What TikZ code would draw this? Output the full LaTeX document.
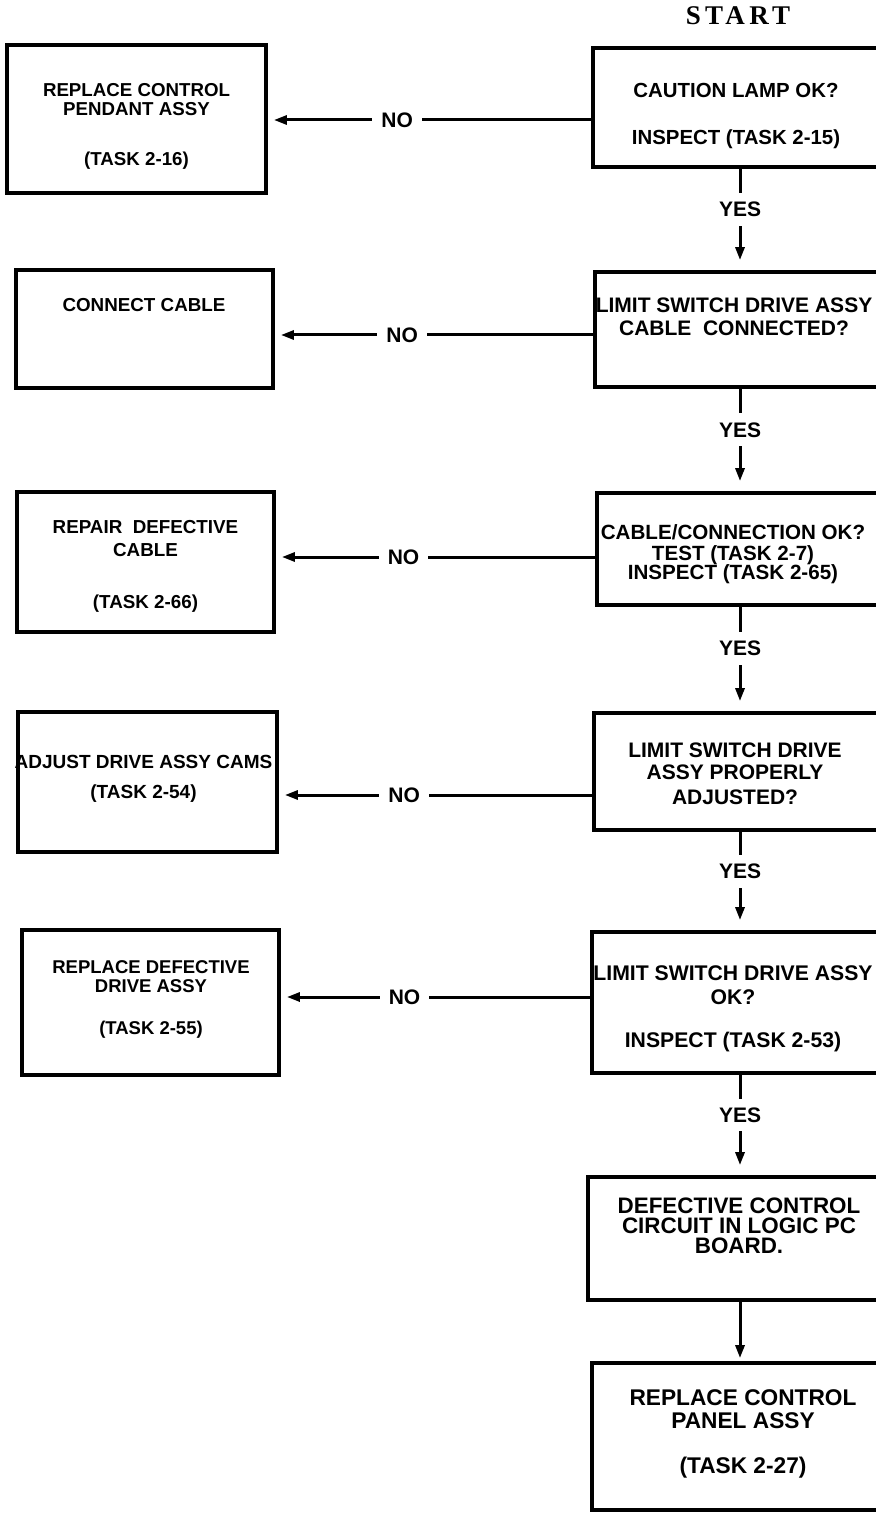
\documentclass[tikz,border=0pt]{standalone}
\usepackage{fontspec}
\setmainfont{Liberation Sans}
\newfontfamily\startfont[LetterSpace=16]{Liberation Serif}
\usetikzlibrary{arrows.meta,fit}

\begin{document}
\begin{tikzpicture}[x=0.5pt,y=-0.5pt,
    box/.style={draw,line width=1.9pt,inner sep=0pt},
    txt/.style 2 args={anchor=north,align=center,inner sep=0pt,
      font={\fontsize{#1}{#2}\selectfont\bfseries\lineskiplimit=-10pt}},
    conn/.style={line width=1.5pt,-{Triangle[length=6.5pt,width=4.5pt]}},
    lbl/.style={fill=white,inner sep=4.5pt,font={\fontsize{10.5}{11}\selectfont\bfseries}}]
  \useasboundingbox (0,0) rectangle (875,1513);
  % right column: checks, top to bottom
  \node[inner sep=0pt,font={\startfont\fontsize{13.5}{14}\selectfont\bfseries}] (start) at (738,16) {START};
  \node[box,fit={(593,48) (887,167)}] (r1) {};
  \node[box,fit={(595,272) (885,387)}] (r2) {};
  \node[box,fit={(597,493) (883,605)}] (r3) {};
  \node[box,fit={(594,713) (886,830)}] (r4) {};
  \node[box,fit={(592,932) (888,1073)}] (r5) {};
  \node[box,fit={(588,1177) (892,1300)}] (r6) {};
  \node[box,fit={(592,1363) (888,1510)}] (r7) {};
  \node[txt={10.2}{11}] (r1t) at (736,82.7) {CAUTION LAMP OK?\\[12.5pt]INSPECT (TASK 2-15)};
  \node[txt={10.5}{11.5}] (r2t) at (734,297.5) {LIMIT SWITCH DRIVE ASSY\\CABLE\ \ CONNECTED?};
  \node[txt={10.3}{10.2}] (r3t) at (733,524.6) {CABLE/CONNECTION OK?\\TEST (TASK 2-7)\\[-0.7pt]INSPECT (TASK 2-65)};
  \node[txt={10.5}{11}] (r4t) at (735,742.5) {LIMIT SWITCH DRIVE\\ASSY PROPERLY\\[1.5pt]ADJUSTED?};
  \node[txt={10.6}{12}] (r5t) at (733,965.4) {LIMIT SWITCH DRIVE ASSY\\OK?\\[9.5pt]INSPECT (TASK 2-53)};
  \node[txt={11.2}{10.2}] (r6t) at (739,1197) {DEFECTIVE CONTROL\\CIRCUIT IN LOGIC PC\\BOARD.};
  \node[txt={11.35}{11.5}] (r7t) at (743,1388.9) {REPLACE CONTROL\\PANEL ASSY\\[11pt](TASK 2-27)};
  % left column: remedies
  \node[box,fit={(7,45) (266,193)}] (l1) {};
  \node[box,fit={(16,270) (273,388)}] (l2) {};
  \node[box,fit={(17,492) (274,632)}] (l3) {};
  \node[box,fit={(18,712) (277,852)}] (l4) {};
  \node[box,fit={(22,930) (279,1075)}] (l5) {};
  \node[txt={9.35}{9.2}] (l1t) at (136.5,83.3) {REPLACE CONTROL\\PENDANT ASSY\\[15.8pt](TASK 2-16)};
  \node[txt={9.4}{11}] (l2t) at (144,298.3) {CONNECT CABLE};
  \node[txt={9.4}{11.5}] (l3t) at (145.5,520.3) {REPAIR\ \ DEFECTIVE\\CABLE\\[14.5pt](TASK 2-66)};
  \node[txt={9.5}{15}] (l4t) at (143.5,755.2) {ADJUST DRIVE ASSY CAMS\\(TASK 2-54)};
  \node[txt={9.25}{9.2}] (l5t) at (151,960.4) {REPLACE DEFECTIVE\\DRIVE ASSY\\[11.8pt](TASK 2-55)};
  % yes branches
  \draw[conn,shorten >=5pt] (r1) -- node[lbl,pos=.4] {YES} (r2);
  \draw[conn,shorten >=5pt] (r2) -- node[lbl,pos=.4] {YES} (r3);
  \draw[conn,shorten >=5pt] (r3) -- node[lbl,pos=.4] {YES} (r4);
  \draw[conn,shorten >=5pt] (r4) -- node[lbl,pos=.4] {YES} (r5);
  \draw[conn,shorten >=5pt] (r5) -- node[lbl,pos=.4] {YES} (r6);
  \draw[conn,shorten >=1.5pt] (r6) -- (r7);
  % no branches
  \draw[conn,shorten >=3pt] (r1.west |- 0,120) -- node[lbl,pos=.6] {NO} (l1.east |- 0,120);
  \draw[conn,shorten >=3pt] (r2.west |- 0,335) -- node[lbl,pos=.6] {NO} (l2.east |- 0,335);
  \draw[conn,shorten >=3pt] (r3.west |- 0,557) -- node[lbl,pos=.6] {NO} (l3.east |- 0,557);
  \draw[conn,shorten >=3pt] (r4.west |- 0,795) -- node[lbl,pos=.6] {NO} (l4.east |- 0,795);
  \draw[conn,shorten >=3pt] (r5.west |- 0,997) -- node[lbl,pos=.6] {NO} (l5.east |- 0,997);
\end{tikzpicture}
\end{document}
